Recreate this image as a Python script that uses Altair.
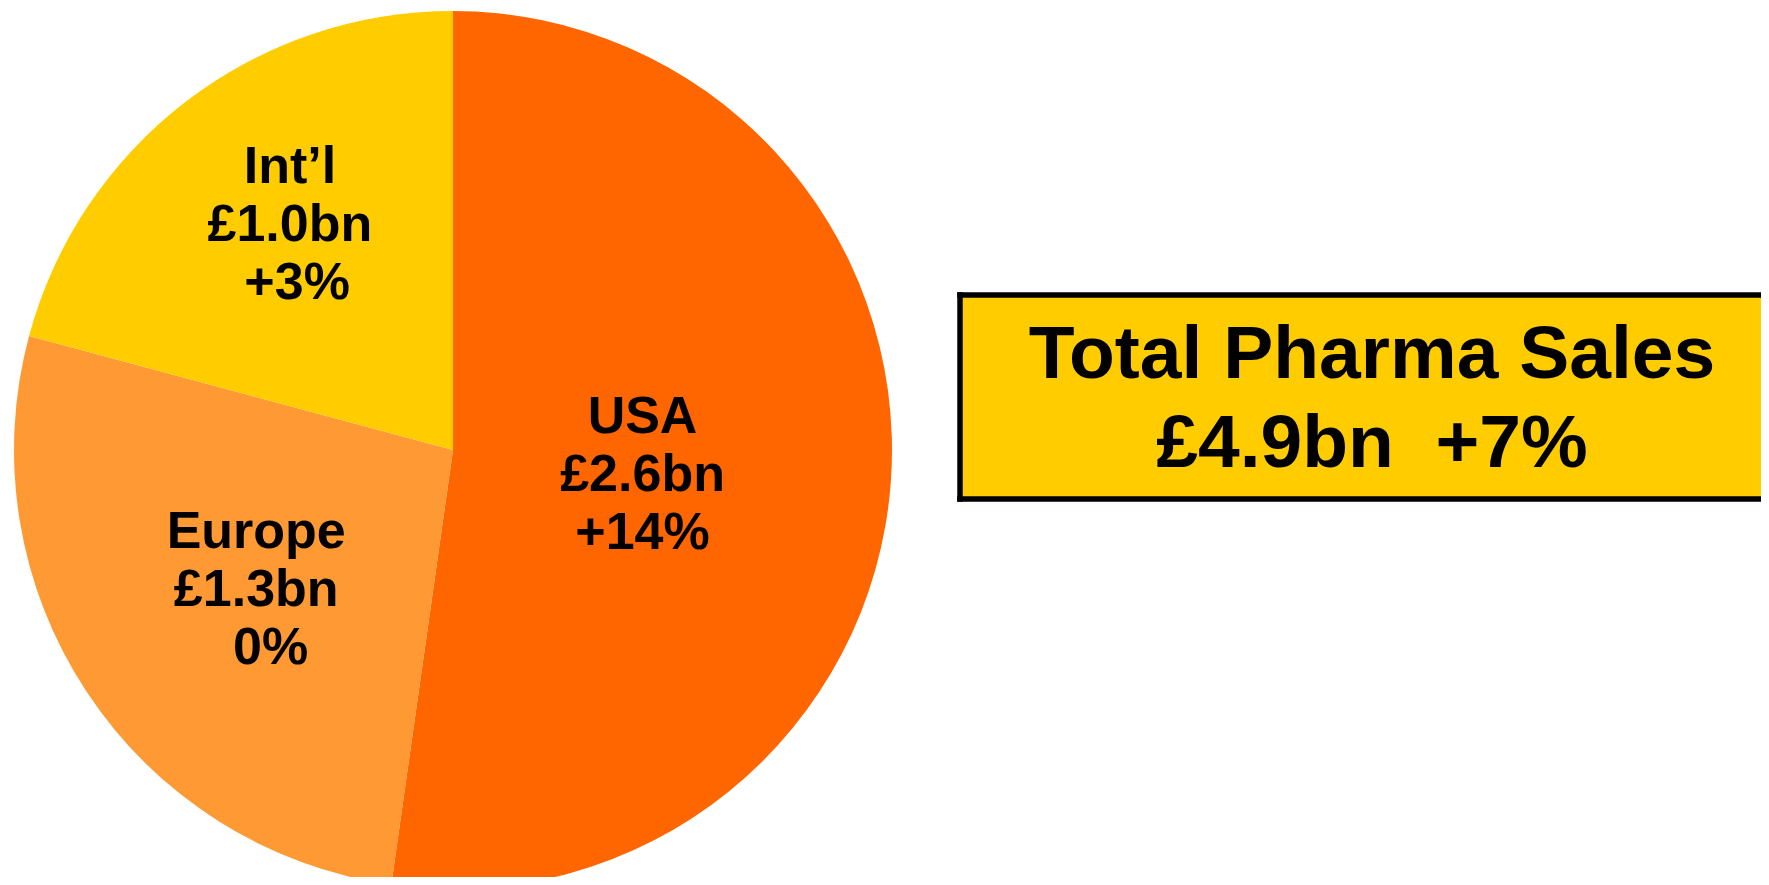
import altair as alt
import pandas as pd

# ---- data ----
regions = ["USA", "Europe", "Int\u2019l"]
sales_bn = [2.56, 1.32, 1.02]
sales_labels = ["£2.6bn", "£1.3bn", "£1.0bn"]
growth_labels = ["+14%", "0%", "+3%"]
slice_colors = ["#FF6600", "#FF9933", "#FFCC00"]

total_title = "Total Pharma Sales"
total_sales = "£4.9bn"
total_growth = "+7%"

# ---- layout / style ----
W, H = 1753, 869
CX, CY, R = 445, 442, 439
FONT = "Liberation Sans"
indent = {"USA": 0, "Europe": 2, "Int\u2019l": 1}
# label placement: radius, dx, dy
placement = {"USA": (190, 0, -46), "Europe": (243, 6, -52), "Int\u2019l": (278, 6, -62)}
BOX_L, BOX_T, BOX_B, BW = 952, 287, 491, 5.5


def pad(n):
    # zero-width space keeps the leading no-break spaces from being trimmed
    return ("\u200b" + "\u00a0" * n) if n else ""


total = sum(sales_bn)
df = pd.DataFrame({
    "region": regions,
    "sales": sales_bn,
    "rank": list(range(len(regions))),
    "label": [
        f"{r}\n{s}\n" + pad(indent[r]) + g
        for r, s, g in zip(regions, sales_labels, growth_labels)
    ],
})

theta_scale = alt.Scale(domain=[0, total])

pie = alt.Chart(df).mark_arc(radius=R).encode(
    theta=alt.Theta("sales:Q", stack=True, scale=theta_scale),
    color=alt.Color("region:N", scale=alt.Scale(domain=regions, range=slice_colors), legend=None),
    order=alt.Order("rank:Q"),
    x=alt.value(CX),
    y=alt.value(CY),
)

cum = alt.Chart(df).transform_window(
    cum="sum(sales)", sort=[alt.SortField("rank")], frame=[None, 0]
).transform_calculate(mid="datum.cum - datum.sales / 2")

text_layers = []
for reg in regions:
    r, dx, dy = placement[reg]
    text_layers.append(
        cum.transform_filter(alt.datum.region == reg).mark_text(
            radius=r, dx=dx, dy=dy, font=FONT, fontSize=52, fontWeight="bold",
            lineBreak="\n", lineHeight=58, align="center", baseline="middle", color="black",
        ).encode(
            theta=alt.Theta("mid:Q", stack=None, scale=theta_scale),
            text="label:N",
            x=alt.value(CX),
            y=alt.value(CY),
        )
    )

box_df = pd.DataFrame({"text": [total_title + "\n" + total_sales + "\u00a0\u00a0" + total_growth]})

box_fill = alt.Chart(box_df).mark_rect(fill="#FFCC00").encode(
    x=alt.value(BOX_L), x2=alt.value(W + 20), y=alt.value(BOX_T), y2=alt.value(BOX_B)
)
border_top = alt.Chart(box_df).mark_rule(color="black", strokeWidth=BW).encode(
    x=alt.value(BOX_L - BW / 2), x2=alt.value(W + 20), y=alt.value(BOX_T)
)
border_bottom = alt.Chart(box_df).mark_rule(color="black", strokeWidth=BW).encode(
    x=alt.value(BOX_L - BW / 2), x2=alt.value(W + 20), y=alt.value(BOX_B)
)
border_left = alt.Chart(box_df).mark_rule(color="black", strokeWidth=BW).encode(
    x=alt.value(BOX_L), y=alt.value(BOX_T - BW / 2), y2=alt.value(BOX_B + BW / 2)
)
box_text = alt.Chart(box_df).mark_text(
    font=FONT, fontSize=75, fontWeight="bold", lineBreak="\n", lineHeight=89,
    align="center", baseline="middle", color="black",
).encode(x=alt.value(1364), y=alt.value(347), text="text:N")

chart = alt.layer(
    pie, *text_layers, box_fill, border_top, border_bottom, border_left, box_text
).properties(
    width=W, height=H, padding=0, autosize=alt.AutoSizeParams(type="none"),
    background="white",
).configure_view(stroke="transparent", strokeWidth=0)

chart.save("out.html", embed_options={"renderer": "svg", "actions": False})
